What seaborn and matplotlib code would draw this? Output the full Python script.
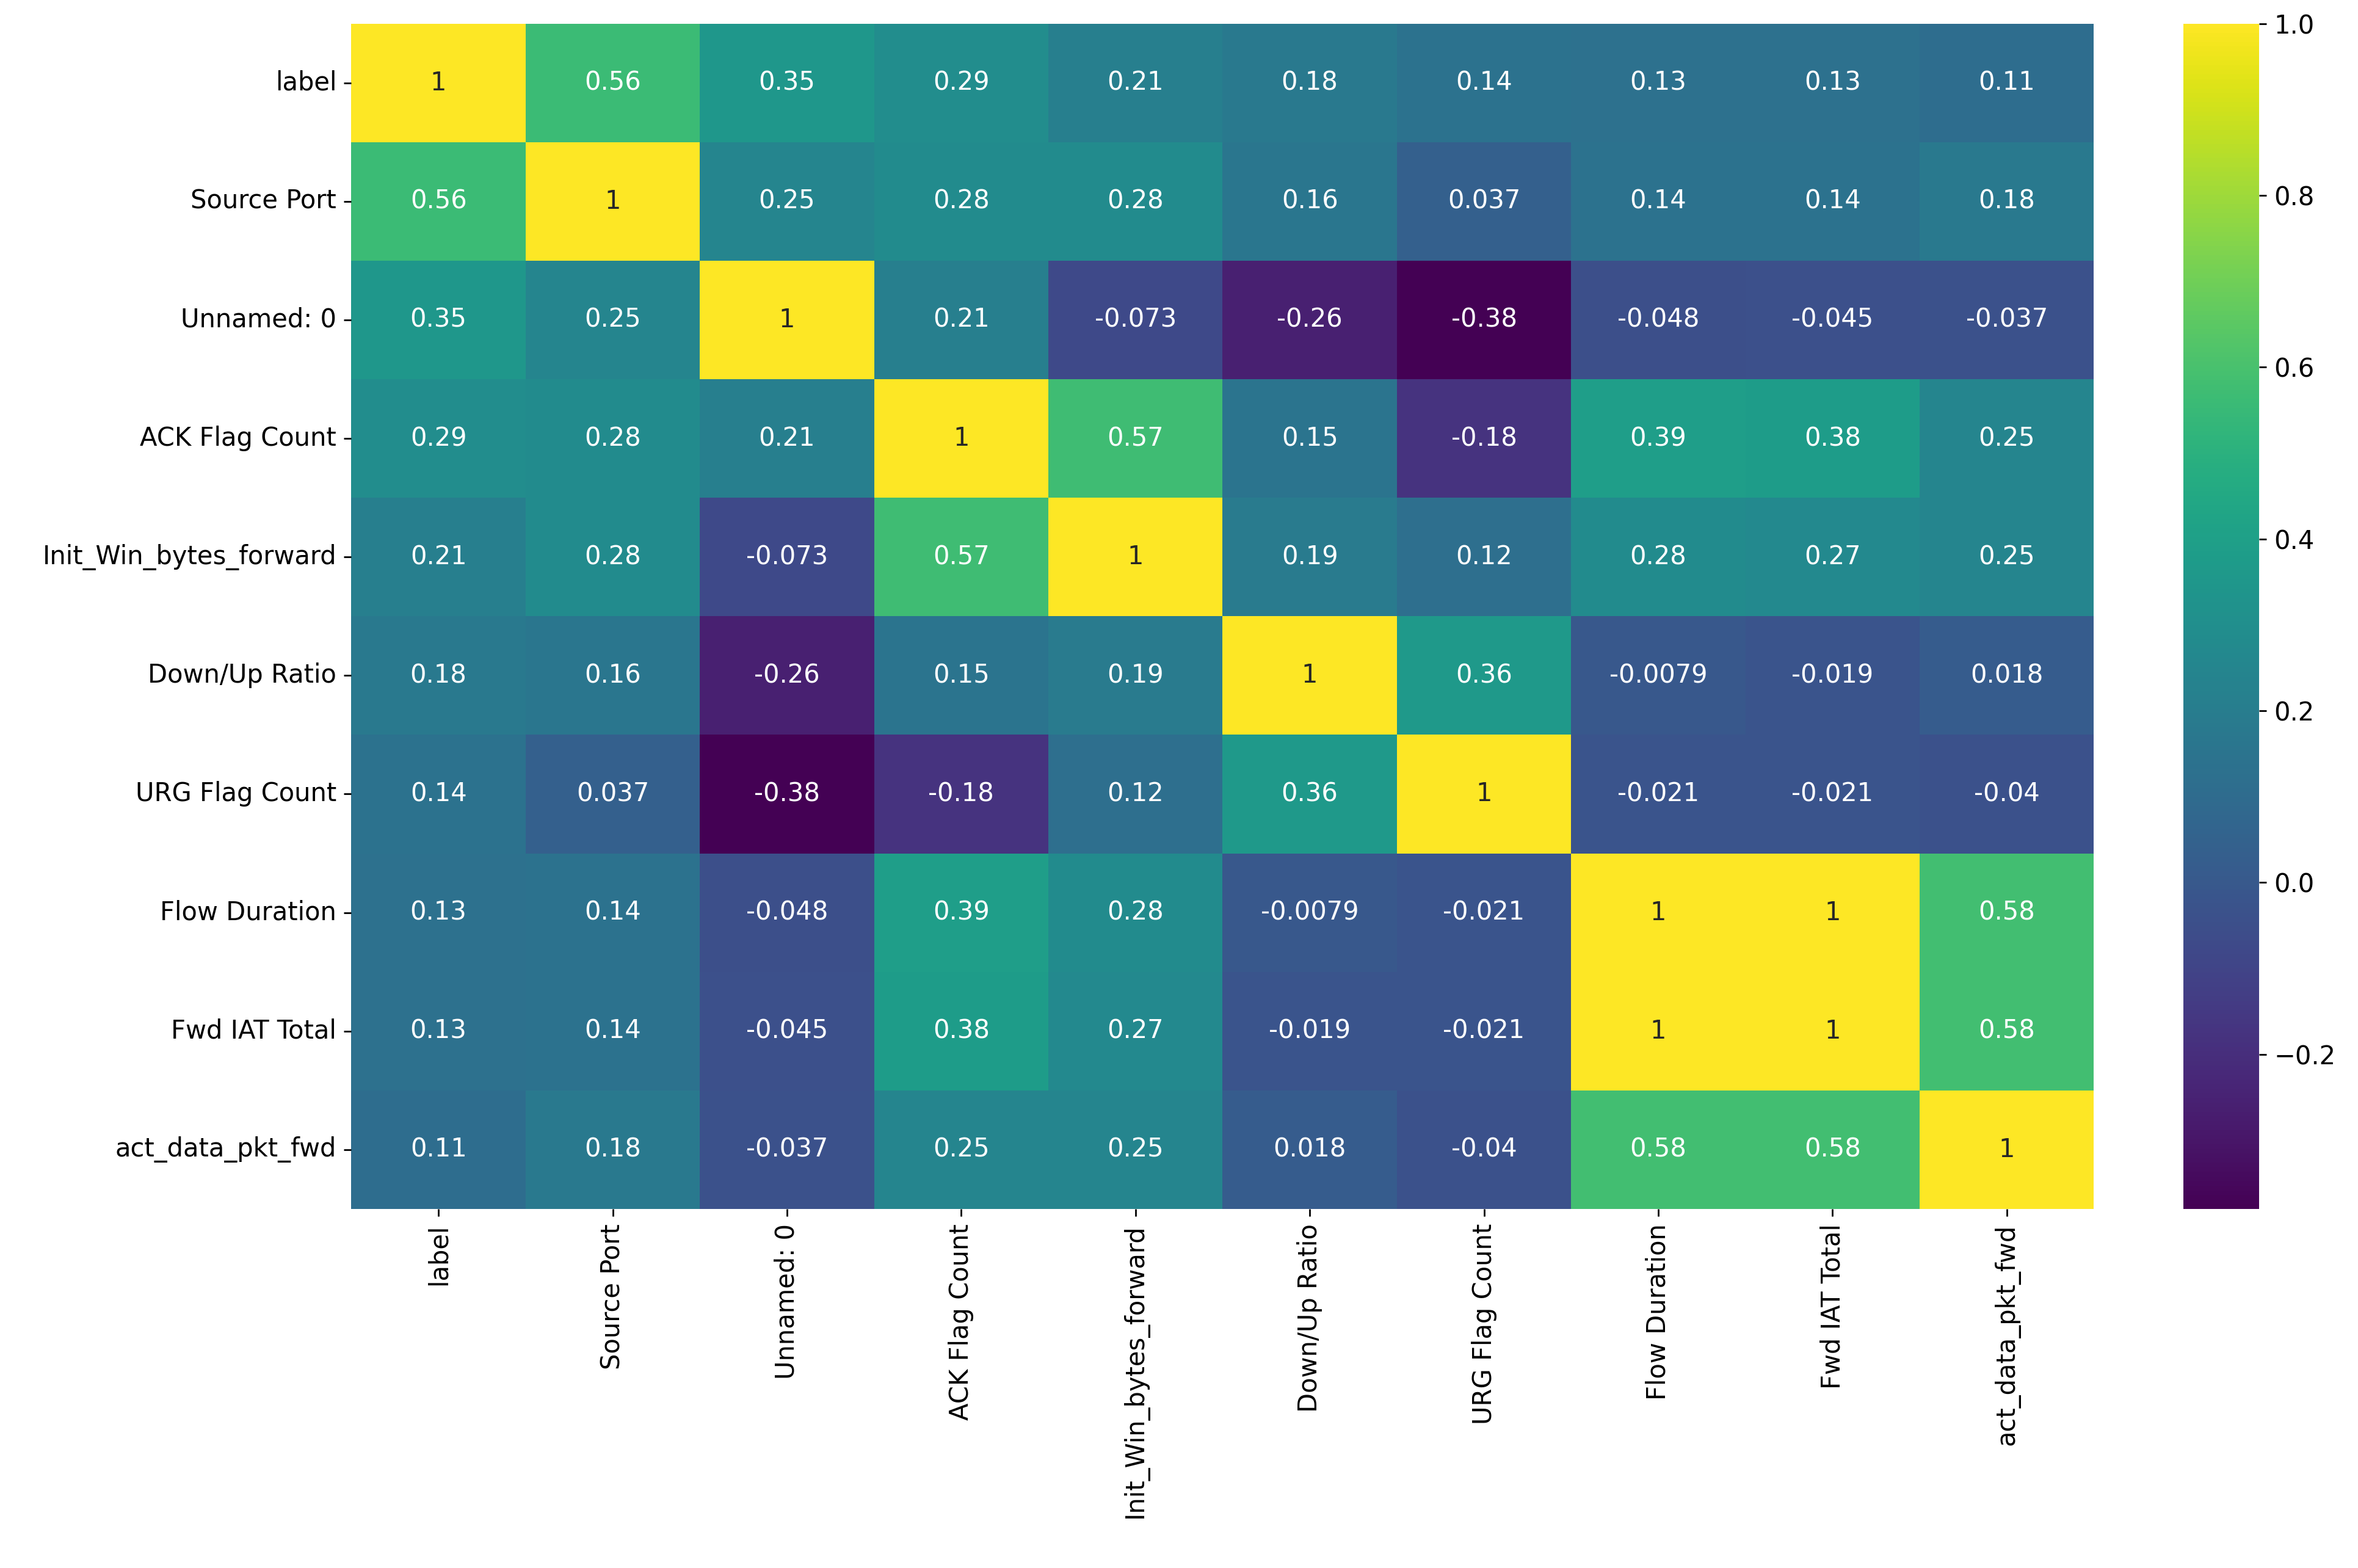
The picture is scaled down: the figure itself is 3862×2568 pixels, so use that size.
import numpy as np
import pandas as pd
import matplotlib
matplotlib.use("Agg")
import matplotlib.pyplot as plt
import seaborn as sns

features = ["label", "Source Port", "Unnamed: 0", "ACK Flag Count",
            "Init_Win_bytes_forward", "Down/Up Ratio", "URG Flag Count",
            "Flow Duration", "Fwd IAT Total", "act_data_pkt_fwd"]

corr_values = [
    [1, 0.56, 0.35, 0.29, 0.21, 0.18, 0.14, 0.13, 0.13, 0.11],
    [0.56, 1, 0.25, 0.28, 0.28, 0.16, 0.037, 0.14, 0.14, 0.18],
    [0.35, 0.25, 1, 0.21, -0.073, -0.26, -0.38, -0.048, -0.045, -0.037],
    [0.29, 0.28, 0.21, 1, 0.57, 0.15, -0.18, 0.39, 0.38, 0.25],
    [0.21, 0.28, -0.073, 0.57, 1, 0.19, 0.12, 0.28, 0.27, 0.25],
    [0.18, 0.16, -0.26, 0.15, 0.19, 1, 0.36, -0.0079, -0.019, 0.018],
    [0.14, 0.037, -0.38, -0.18, 0.12, 0.36, 1, -0.021, -0.021, -0.04],
    [0.13, 0.14, -0.048, 0.39, 0.28, -0.0079, -0.021, 1, 1, 0.58],
    [0.13, 0.14, -0.045, 0.38, 0.27, -0.019, -0.021, 1, 1, 0.58],
    [0.11, 0.18, -0.037, 0.25, 0.25, 0.018, -0.04, 0.58, 0.58, 1],
]

corr = pd.DataFrame(corr_values, index=features, columns=features)

fig = plt.figure(figsize=(15.448, 10.272), dpi=250)
ax = fig.add_axes([0.149, 0.229, 0.739, 0.756])
cax = fig.add_axes([0.926, 0.229, 0.032, 0.756])

sns.heatmap(corr, annot=True, cmap="viridis", ax=ax, cbar_ax=cax,
            annot_kws={"fontsize": 12})
ax.tick_params(labelsize=12)
cax.tick_params(labelsize=12)
plt.setp(ax.get_xticklabels(), rotation=90)
plt.setp(ax.get_yticklabels(), rotation=0)

fig.savefig("out.png", dpi=250)
